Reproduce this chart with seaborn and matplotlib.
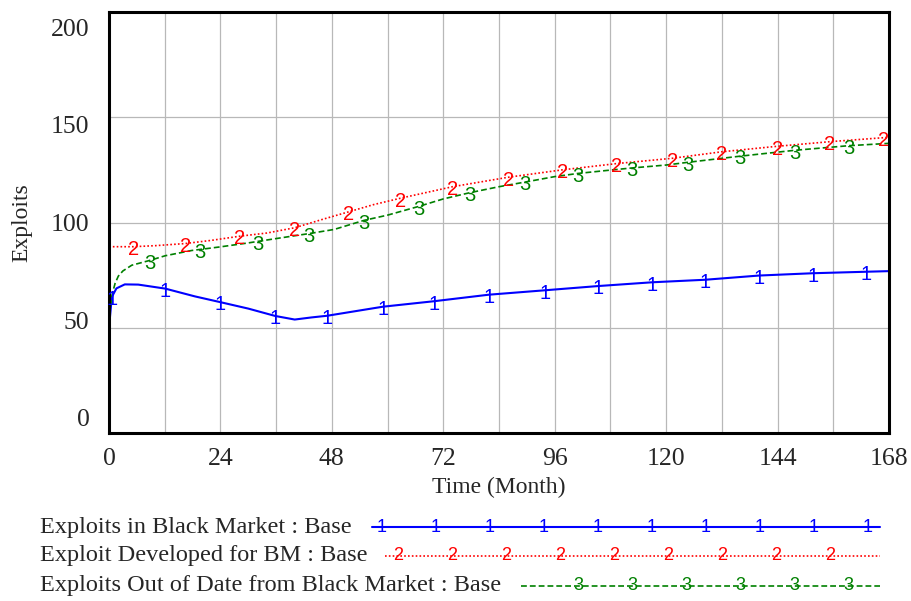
import numpy as np
import matplotlib
matplotlib.use("Agg")
import matplotlib.pyplot as plt
import matplotlib.transforms as mtransforms
from matplotlib.lines import Line2D
import seaborn as sns

# ---- data (Vensim style run "Base") ----
blueT = [0, 0.6, 1.6, 3.4, 6.3, 12.1, 18.5, 23.9, 30, 35.8, 40, 43.6, 47, 59, 70, 81.8,
         93.9, 105.3, 117, 128.4, 140, 151.6, 163, 168]
blueV = [50, 64.6, 68.7, 70.6, 70.5, 68.6, 64.9, 62.2, 59.1, 55.6, 53.9, 54.9, 55.7, 60, 62.6, 65.7,
         67.8, 69.8, 71.6, 72.8, 74.8, 75.9, 76.6, 76.9]
blueMarks = [0.6, 12.1, 23.9, 35.8, 47, 59, 70, 81.8, 93.9, 105.3, 117, 128.4, 140, 151.6, 163]

redT = [0, 5.2, 10, 16.4, 22, 28.2, 34, 40, 46, 51.5, 57, 62.7, 74, 86, 97.6,
        109.4, 121.3, 132, 143.9, 155.3, 166.9, 168]
redV = [88.5, 88.5, 89, 90, 91.5, 93.5, 95, 97.5, 101.5, 105, 108.5, 111.5, 117, 121.5, 125,
        128, 130.5, 133.6, 136.2, 138.4, 140.3, 140.5]
redMarks = [5.2, 16.4, 28.2, 40, 51.5, 62.7, 74, 86, 97.6, 109.4, 121.3, 132, 143.9, 155.3, 166.9]

greenT = [0, 0.3, 0.7, 1.3, 2, 3, 4.9, 8.8, 12.1, 17.8, 19.6, 23.9, 30, 32, 36.1, 43, 48.5, 54.9,
          60, 66.8, 72, 77.8, 84, 89.6, 96, 101, 108, 112.6, 120, 124.7, 135.9, 147.7, 159.4, 168]
greenV = [52, 60, 66, 71, 74.5, 77, 79.7, 82, 84.2, 86.7, 87.2, 88.4, 90.3, 91, 92.4, 94.7, 96.7, 101,
          103.5, 107.7, 111.2, 114.2, 117, 119.2, 121.8, 123.3, 124.9, 125.9, 127.3, 128.6, 131.5, 134.3,
          136.5, 137.6]
greenMarks = [8.8, 19.6, 32, 43, 54.9, 66.8, 77.8, 89.6, 101, 112.6, 124.7, 135.9, 147.7, 159.4]

seriesNames = ["Exploits in Black Market : Base",
               "Exploit Developed for BM : Base",
               "Exploits Out of Date from Black Market : Base"]
xTicks = [0, 24, 48, 72, 96, 120, 144, 168]
yTicks = [0, 50, 100, 150, 200]

sns.set_style("white")
plt.rcParams['font.family'] = ['Liberation Serif', 'DejaVu Serif']

fig = plt.figure(figsize=(9.11, 6.01), dpi=100)
ax = fig.add_axes([109/911, 1-433/601, 780/911, 421/601])

cols = ['#0000ff', '#ff0000', '#008000']
styles = ['-', (0, (1, 1.3)), (0, (3.5, 1.8))]
widths = [1.5, 1.2, 1.2]
allT = [blueT, redT, greenT]
allV = [blueV, redV, greenV]
allM = [blueMarks, redMarks, greenMarks]

for i in range(3):
    sns.lineplot(x=allT[i], y=allV[i], ax=ax, color=cols[i], linestyle=styles[i],
                 linewidth=widths[i], estimator=None, sort=False)
    lookup = dict(zip(allT[i], allV[i]))
    for t in allM[i]:
        # vensim hangs the number just under the line
        ax.annotate(str(i+1), (t, lookup[t]), xytext=(0, -2), textcoords='offset points',
                    color=cols[i], ha='center', va='center', fontsize=14.5, family='Liberation Sans')

ax.set_xlim(0, 168)
ax.set_ylim(0, 200)
ax.set_xticks(xTicks)
ax.set_xticks([12, 36, 60, 84, 108, 132, 156], minor=True)
ax.set_yticks(yTicks)
ax.set_yticklabels([str(v) for v in yTicks])
ax.grid(True, which='both', color='#b8b8b8', linewidth=0.9)
ax.tick_params(which='both', length=0, labelsize=18.5)
ax.tick_params(axis='x', pad=11)
ax.tick_params(axis='y', pad=14)

# vensim spreads the y labels a bit tighter than the grid
for v, lab in zip(yTicks, ax.get_yticklabels()):
    off = mtransforms.ScaledTranslation(0, (100 - v) * 0.15 / 100, fig.dpi_scale_trans)
    lab.set_transform(lab.get_transform() + off)

for sp in ax.spines.values():
    sp.set_color('black')
    sp.set_linewidth(2.2)

ax.set_xlabel("Time (Month)", fontsize=17)
ax.set_ylabel("Exploits", fontsize=17)
ax.xaxis.set_label_coords(0.5, -0.105)
ax.yaxis.set_label_coords(-0.098, 0.5)

# legend, drawn like vensim does it
rowY = [527, 556, 586]
lineStart = [372, 385, 521]
firstMark = [382, 398, 578]
nMarks = [10, 9, 6]
for i in range(3):
    y = 1 - rowY[i]/601
    fig.text(40/911, y, seriesNames[i], fontsize=17.5, va='center', ha='left')
    fig.add_artist(Line2D([lineStart[i]/911, 880/911], [y, y], transform=fig.transFigure,
                          color=cols[i], linestyle=styles[i], linewidth=widths[i]))
    for k in range(nMarks[i]):
        fig.text((firstMark[i] + 54*k)/911, y, str(i+1), color=cols[i], ha='center',
                 va='center', fontsize=13, family='Liberation Sans')

fig.savefig("out.png", dpi=100)
